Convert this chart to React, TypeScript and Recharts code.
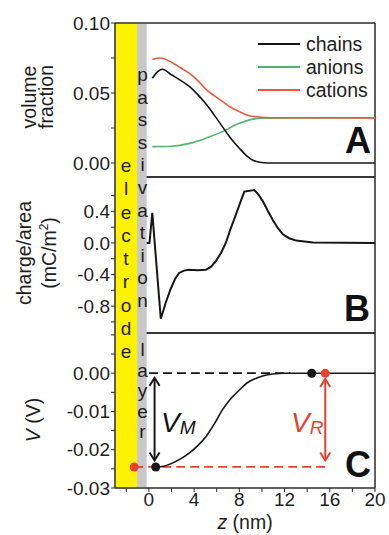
import React from 'react';
import { LineChart, ComposedChart, Line, Scatter, XAxis, YAxis, ReferenceArea, ReferenceLine } from 'recharts';

const FONT = '"Liberation Sans", Arial, Helvetica, sans-serif';
const W = 389;

// z axis (nm)
const zDomain = [-3, 20];
const zTicks = [-2, 0, 2, 4, 6, 8, 10, 12, 14, 16, 18, 20];
const zTopTicks = [0, 2, 4, 6, 8, 10, 12, 14, 16, 18, 20];
const electrode = { z1: -2.93, z2: -1.05 };
const passivation = { z1: -1.05, z2: -0.2 };

// panel A: volume fraction
const chains = [
  { z: 0.3, v: 0.0605 }, { z: 0.8, v: 0.0655 }, { z: 1.2, v: 0.067 }, { z: 2.0, v: 0.063 },
  { z: 2.8, v: 0.059 }, { z: 3.6, v: 0.0545 }, { z: 4.3, v: 0.049 }, { z: 5.0, v: 0.0426 },
  { z: 5.8, v: 0.034 }, { z: 6.5, v: 0.026 }, { z: 7.2, v: 0.018 }, { z: 8.0, v: 0.0105 },
  { z: 8.6, v: 0.0055 }, { z: 9.2, v: 0.002 }, { z: 9.8, v: 0.0005 }, { z: 10.5, v: 0 },
  { z: 14, v: 0 }, { z: 20, v: 0 },
];
const anions = [
  { z: 0.3, v: 0.0117 }, { z: 2.0, v: 0.012 }, { z: 3.6, v: 0.014 }, { z: 5.0, v: 0.0176 },
  { z: 6.5, v: 0.0224 }, { z: 8.0, v: 0.0284 }, { z: 9.0, v: 0.031 }, { z: 10.0, v: 0.032 },
  { z: 12, v: 0.0322 }, { z: 20, v: 0.0322 },
];
const cations = [
  { z: 0.3, v: 0.074 }, { z: 1.0, v: 0.075 }, { z: 2.0, v: 0.072 }, { z: 2.8, v: 0.068 },
  { z: 3.6, v: 0.064 }, { z: 4.3, v: 0.059 }, { z: 5.0, v: 0.053 }, { z: 5.8, v: 0.048 },
  { z: 6.5, v: 0.044 }, { z: 7.2, v: 0.04 }, { z: 8.0, v: 0.0367 }, { z: 8.8, v: 0.034 },
  { z: 9.5, v: 0.033 }, { z: 11, v: 0.0323 }, { z: 20, v: 0.0322 },
];
const aTicks = [0, 0.025, 0.05, 0.075, 0.1];
const aLabels = [0, 0.05, 0.1];

// panel B: charge/area (mC/m2)
const charge = [
  { z: -0.2, v: 0 }, { z: 0.05, v: 0 }, { z: 0.3, v: 0.38 }, { z: 1.05, v: -0.96 },
  { z: 1.5, v: -0.75 }, { z: 1.9, v: -0.59 }, { z: 2.3, v: -0.46 }, { z: 2.67, v: -0.38 },
  { z: 3.1, v: -0.35 }, { z: 3.56, v: -0.34 }, { z: 4.3, v: -0.345 }, { z: 5.04, v: -0.34 },
  { z: 5.5, v: -0.3 }, { z: 5.93, v: -0.23 }, { z: 6.4, v: -0.12 }, { z: 6.8, v: 0 },
  { z: 7.2, v: 0.17 }, { z: 7.7, v: 0.36 }, { z: 8.1, v: 0.52 }, { z: 8.44, v: 0.65 },
  { z: 9.33, v: 0.67 }, { z: 9.7, v: 0.61 }, { z: 10.07, v: 0.53 }, { z: 10.5, v: 0.41 },
  { z: 10.96, v: 0.29 }, { z: 11.4, v: 0.19 }, { z: 11.85, v: 0.11 }, { z: 12.4, v: 0.06 },
  { z: 13.04, v: 0.03 }, { z: 14.5, v: 0.005 }, { z: 20, v: 0 },
];
const bTicks = [-1.0, -0.8, -0.6, -0.4, -0.2, 0, 0.2, 0.4, 0.6];
const bLabels = [-0.8, -0.4, 0, 0.4];

// panel C: potential V (V)
const potential = [
  { z: 0.6, v: -0.0245 }, { z: 1.3, v: -0.0243 }, { z: 2.07, v: -0.0235 }, { z: 2.8, v: -0.0224 },
  { z: 3.56, v: -0.0209 }, { z: 4.3, v: -0.019 }, { z: 5.04, v: -0.0166 }, { z: 5.8, v: -0.0132 },
  { z: 6.5, v: -0.0096 }, { z: 7.2, v: -0.0068 }, { z: 8.0, v: -0.0044 }, { z: 8.7, v: -0.0025 },
  { z: 9.5, v: -0.0013 }, { z: 10.2, v: -0.0006 }, { z: 10.96, v: -0.0002 }, { z: 12, v: 0 },
  { z: 20, v: 0 },
];
const zeroDash = [{ z: 0, v: 0 }, { z: 12.5, v: 0 }];
const minDash = [{ z: -1.3, v: -0.0245 }, { z: 16, v: -0.0245 }];
const blackDots = [{ z: 0.6, v: -0.0245 }, { z: 14.4, v: 0 }];
const redDots = [{ z: -1.3, v: -0.0245 }, { z: 15.6, v: 0 }];
const vmArrow = [{ z: 0.5, v: -0.0012 }, { z: 0.5, v: -0.0228 }];
const vrArrow = [{ z: 15.6, v: -0.0015 }, { z: 15.6, v: -0.0228 }];
const cTicks = [-0.03, -0.025, -0.02, -0.015, -0.01, -0.005, 0, 0.005, 0.01];
const cLabels = [-0.03, -0.02, -0.01, 0];

const BLACK = '#161616';
const RED = '#ec5a3e';
const RED2 = '#e8412c';
const GREEN = '#55b46b';
const YELLOW = '#fff200';
const GRAY = '#c8c8cc';
const FRAME = '#2a2a2a';

const tickStyle = { fontSize: 19, fill: '#1e1e1e', fontFamily: FONT };

const near = (a: number, list: number[]) => list.some((b) => Math.abs(a - b) < 1e-9);

// top/bottom frame edges start at topFrom/bottomFrom: outer edges span the bands, inner separators stop at the layer
function frame(yDomain: number[], bandY: number[], yTicks: number[], yFmt: (v: number) => string,
  withZLabels: boolean, topFrom: number, bottomFrom: number) {
  return [
    <ReferenceArea key="pa" xAxisId="b" yAxisId="l" x1={passivation.z1} x2={passivation.z2} y1={bandY[0]} y2={bandY[1]}
      fill={GRAY} fillOpacity={1} stroke="none" ifOverflow="hidden" />,
    <ReferenceArea key="el" xAxisId="b" yAxisId="l" x1={electrode.z1} x2={electrode.z2} y1={bandY[0]} y2={bandY[1]}
      fill={YELLOW} fillOpacity={1} stroke="none" ifOverflow="hidden" />,
    <ReferenceLine key="ft" xAxisId="b" yAxisId="l" segment={[{ x: topFrom, y: yDomain[1] }, { x: zDomain[1], y: yDomain[1] }]}
      stroke={FRAME} strokeWidth={1.5} ifOverflow="visible" />,
    <ReferenceLine key="fb" xAxisId="b" yAxisId="l" segment={[{ x: bottomFrom, y: yDomain[0] }, { x: zDomain[1], y: yDomain[0] }]}
      stroke={FRAME} strokeWidth={1.5} ifOverflow="visible" />,
    <ReferenceLine key="fr" xAxisId="b" yAxisId="l" segment={[{ x: zDomain[1], y: yDomain[0] }, { x: zDomain[1], y: yDomain[1] }]}
      stroke={FRAME} strokeWidth={1.5} ifOverflow="visible" />,
    <ReferenceLine key="fl" xAxisId="b" yAxisId="l" segment={[{ x: zDomain[0], y: yDomain[0] }, { x: zDomain[0], y: yDomain[1] }]}
      stroke={FRAME} strokeWidth={1.5} ifOverflow="visible" />,
    <XAxis key="xt" xAxisId="t" orientation="top" type="number" dataKey="z" domain={zDomain} ticks={zTopTicks}
      height={0} mirror tick={false} tickSize={4} stroke={FRAME} axisLine={false} tickLine allowDataOverflow />,
    withZLabels ? (
      <XAxis key="xb" xAxisId="b" type="number" dataKey="z" domain={zDomain} ticks={zTicks} height={47}
        tickSize={4} tickMargin={1} tick={tickStyle} stroke={FRAME} axisLine={false} tickLine
        tickFormatter={(v: number) => (v >= 0 && v % 4 === 0 ? String(v) : '')} allowDataOverflow interval={0} />
    ) : (
      <XAxis key="xb" xAxisId="b" type="number" dataKey="z" domain={zDomain} ticks={zTicks} height={0}
        mirror tick={false} tickLine={false} axisLine={false} allowDataOverflow />
    ),
    <YAxis key="yl" yAxisId="l" type="number" dataKey="v" domain={yDomain} ticks={yTicks} width={115}
      tickSize={4} tickMargin={1} tick={tickStyle} tickFormatter={yFmt} stroke={FRAME}
      axisLine={false} tickLine allowDataOverflow interval={0} />,
    <YAxis key="yr" yAxisId="r" orientation="right" type="number" dataKey="v" domain={yDomain} ticks={yTicks}
      width={0} tickSize={4} tick={false} stroke={FRAME} axisLine={false} tickLine allowDataOverflow />,
  ];
}

const arrowDot = (color: string) => (props: any) => {
  const { cx, cy, index } = props;
  const d = index === 0 ? 1 : -1;
  return (
    <polyline key={`a${index}`} points={`${cx - 5},${cy + 8 * d} ${cx},${cy} ${cx + 5},${cy + 8 * d}`}
      fill="none" stroke={color} strokeWidth={2} />
  );
};

const electrodeLetters = 'electrode'.split('');
const passivationLetters = 'passivation'.split('');
const layerLetters = 'layer'.split('');

export default function App() {
  const inner = passivation.z2;
  return (
    <div style={{ position: 'absolute', left: 0, top: 0, width: W, height: 535, background: '#fff', fontFamily: FONT }}>
      <div style={{ position: 'absolute', left: 0, top: 0 }}>
        <LineChart width={W} height={180} margin={{ top: 23, right: 14, bottom: 3, left: 0 }}>
          {frame([-0.01, 0.1], [-0.01, 0.0995], aTicks, (v) => (near(v, aLabels) ? v.toFixed(2) : ''), false, zDomain[0], inner)}
          <Line xAxisId="b" yAxisId="l" data={anions} dataKey="v" type="monotone" stroke={GREEN} strokeWidth={1.6} dot={false} isAnimationActive={false} />
          <Line xAxisId="b" yAxisId="l" data={cations} dataKey="v" type="monotone" stroke={RED} strokeWidth={1.6} dot={false} isAnimationActive={false} />
          <Line xAxisId="b" yAxisId="l" data={chains} dataKey="v" type="monotone" stroke={BLACK} strokeWidth={1.6} dot={false} isAnimationActive={false} />
        </LineChart>
      </div>
      <div style={{ position: 'absolute', left: 0, top: 174 }}>
        <LineChart width={W} height={162} margin={{ top: 3, right: 14, bottom: 3, left: 0 }}>
          {frame([-1.14, 0.835], [-1.14, 0.835], bTicks, (v) => (near(v, bLabels) ? v.toFixed(1) : ''), false, inner, inner)}
          <Line xAxisId="b" yAxisId="l" data={charge} dataKey="v" type="linear" stroke={BLACK} strokeWidth={2} dot={false} isAnimationActive={false} />
        </LineChart>
      </div>
      <div style={{ position: 'absolute', left: 0, top: 330 }}>
        <ComposedChart width={W} height={205} margin={{ top: 3, right: 14, bottom: 0, left: 0 }}>
          {frame([-0.03, 0.0105], [-0.0298, 0.0105], cTicks, (v) => (near(v, cLabels) ? v.toFixed(2) : ''), true, inner, zDomain[0])}
          <Line xAxisId="b" yAxisId="l" data={minDash} dataKey="v" type="linear" stroke={RED2} strokeWidth={1.8} strokeDasharray="9 5" dot={false} isAnimationActive={false} />
          <Line xAxisId="b" yAxisId="l" data={zeroDash} dataKey="v" type="linear" stroke={BLACK} strokeWidth={1.8} strokeDasharray="9 5" dot={false} isAnimationActive={false} />
          <Line xAxisId="b" yAxisId="l" data={potential} dataKey="v" type="monotone" stroke={BLACK} strokeWidth={1.6} dot={false} isAnimationActive={false} />
          <Line xAxisId="b" yAxisId="l" data={vmArrow} dataKey="v" type="linear" stroke={BLACK} strokeWidth={2} dot={arrowDot(BLACK)} isAnimationActive={false} />
          <Line xAxisId="b" yAxisId="l" data={vrArrow} dataKey="v" type="linear" stroke={RED2} strokeWidth={2} dot={arrowDot(RED2)} isAnimationActive={false} />
          <Scatter xAxisId="b" yAxisId="l" data={blackDots} dataKey="v" fill={BLACK} isAnimationActive={false} />
          <Scatter xAxisId="b" yAxisId="l" data={redDots} dataKey="v" fill={RED2} isAnimationActive={false} />
        </ComposedChart>
      </div>

      <svg width={W} height={535} style={{ position: 'absolute', left: 0, top: 0, pointerEvents: 'none' }}
        fontFamily={FONT}>
        {/* axis titles */}
        <g fontSize={19.5} fill="#1e1e1e" textAnchor="middle">
          <text transform="translate(36,97) rotate(-90)">volume</text>
          <text transform="translate(53,97) rotate(-90)">fraction</text>
          <text transform="translate(31,253) rotate(-90)">charge/area</text>
          <text transform="translate(56,253) rotate(-90)">(mC/m<tspan fontSize={12} dy={-8}>2</tspan><tspan dy={8}>)</tspan></text>
          <text transform="translate(40,420) rotate(-90)"><tspan fontStyle="italic">V</tspan> (V)</text>
          <text x={245} y={529}><tspan fontStyle="italic">z</tspan> (nm)</text>
        </g>
        {/* legend */}
        <g fontSize={19.5} fill="#1e1e1e">
          <line x1={258} x2={300} y1={44} y2={44} stroke={BLACK} strokeWidth={1.8} />
          <line x1={258} x2={300} y1={67} y2={67} stroke={GREEN} strokeWidth={1.8} />
          <line x1={258} x2={300} y1={90} y2={90} stroke={RED} strokeWidth={1.8} />
          <text x={306} y={51}>chains</text>
          <text x={306} y={74}>anions</text>
          <text x={306} y={97}>cations</text>
        </g>
        {/* panel letters */}
        <g fontSize={36} fontWeight="bold" fill="#111" textAnchor="end">
          <text x={371} y={153}>A</text>
          <text x={370} y={321}>B</text>
          <text x={371} y={477}>C</text>
        </g>
        {/* electrode / passivation layer */}
        <g fontSize={19} fill="#1e1e1e" textAnchor="middle">
          {electrodeLetters.map((c, i) => (
            <text key={`e${i}`} x={126} y={172 + i * 23.25}>{c}</text>
          ))}
          {passivationLetters.map((c, i) => (
            <text key={`p${i}`} x={142.5} y={81 + i * 22.6}>{c}</text>
          ))}
          {layerLetters.map((c, i) => (
            <text key={`l${i}`} x={142.5} y={356 + i * 20.5}>{c}</text>
          ))}
        </g>
        {/* V_M and V_R */}
        <text x={161} y={432} fontSize={28} fontStyle="italic" fill="#111">V<tspan fontSize={19} dy={2}>M</tspan></text>
        <text x={291} y={432} fontSize={28} fontStyle="italic" fill={RED2}>V<tspan fontSize={19} dy={2}>R</tspan></text>
      </svg>
    </div>
  );
}
